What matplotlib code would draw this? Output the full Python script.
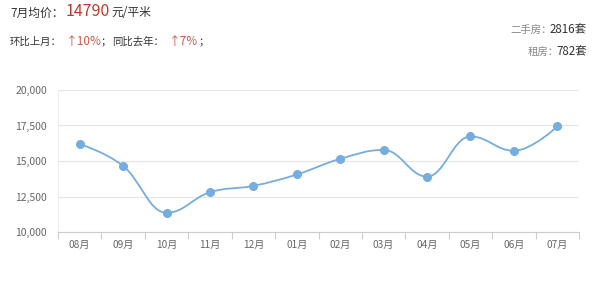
import numpy as np
import matplotlib.pyplot as plt
from matplotlib.path import Path
from matplotlib.patches import PathPatch

plt.rcParams['font.family'] = ['Noto Sans CJK SC', 'DejaVu Sans']

# 数据
months = ['08月', '09月', '10月', '11月', '12月', '01月', '02月', '03月', '04月', '05月', '06月', '07月']
prices = [16200, 14650, 11350, 12800, 13250, 14050, 15150, 15780, 13900, 16730, 15720, 17430]
yticks = [10000, 12500, 15000, 17500, 20000]

line_color = '#76addf'
dark = '#333333'
red = '#c0392b'
up_red = '#d0584a'


def spline_path(xs, ys, smoothing=1.5):
    # 平滑曲线 (类似 Highcharts spline)
    verts = [(xs[0], ys[0])]
    codes = [Path.MOVETO]
    n = len(xs)
    conts = []
    for i in range(n):
        if i == 0 or i == n - 1:
            conts.append((xs[i], ys[i], xs[i], ys[i]))
            continue
        d = smoothing + 1
        lx = (smoothing * xs[i] + xs[i - 1]) / d
        ly = (smoothing * ys[i] + ys[i - 1]) / d
        rx = (smoothing * xs[i] + xs[i + 1]) / d
        ry = (smoothing * ys[i] + ys[i + 1]) / d
        corr = (ry - ly) * (rx - xs[i]) / (rx - lx) + ys[i] - ry
        ly += corr
        ry += corr
        if ly > ys[i - 1] and ly > ys[i]:
            ly = max(ys[i - 1], ys[i]); ry = 2 * ys[i] - ly
        elif ly < ys[i - 1] and ly < ys[i]:
            ly = min(ys[i - 1], ys[i]); ry = 2 * ys[i] - ly
        if ry > ys[i + 1] and ry > ys[i]:
            ry = max(ys[i + 1], ys[i]); ly = 2 * ys[i] - ry
        elif ry < ys[i + 1] and ry < ys[i]:
            ry = min(ys[i + 1], ys[i]); ly = 2 * ys[i] - ry
        conts.append((lx, ly, rx, ry))
    for i in range(1, n):
        verts += [(conts[i - 1][2], conts[i - 1][3]), (conts[i][0], conts[i][1]), (xs[i], ys[i])]
        codes += [Path.CURVE4] * 3
    return Path(verts, codes)


fig = plt.figure(figsize=(6, 2.82), dpi=100)
ax = fig.add_axes([58 / 600, 1 - 232 / 282, 521 / 600, 142 / 282])

x = np.arange(len(months))
ax.add_patch(PathPatch(spline_path(x, prices), facecolor='none', edgecolor=line_color, lw=1.3, zorder=3))
ax.plot(x, prices, 'o', color=line_color, markersize=5.5, zorder=4)

ax.set_xlim(-0.5, len(months) - 0.5)
ax.set_ylim(10000, 20000)
ax.set_yticks(yticks)
ax.set_yticklabels([f'{v:,}' for v in yticks])
ax.set_xticks(np.arange(len(months) + 1) - 0.5)
ax.set_xticklabels([])
ax.set_xticks(x, minor=True)
ax.set_xticklabels(months, minor=True)
ax.tick_params(axis='x', which='major', length=5, color='#cccccc', direction='out')
ax.tick_params(axis='x', which='minor', length=0, pad=6, labelsize=7.3, labelcolor='#666666')
ax.tick_params(axis='y', length=0, pad=8, labelsize=7.5, labelcolor='#666666')
ax.grid(axis='y', color='#e6e6e6', lw=0.8)
for s in ['top', 'right']:
    ax.spines[s].set_visible(False)
ax.spines['left'].set_color('#eeeeee')
ax.spines['bottom'].set_color('#cccccc')


# 顶部文字 (像素位置)
def px_text(xp, yp, txt, col, size, ha='left'):
    return fig.text(xp / 600, 1 - yp / 282, txt, color=col, fontsize=size, va='center', ha=ha)


px_text(10, 13, '7月均价：', dark, 8.5)
px_text(66, 12, '14790', red, 11.5)
px_text(111, 13, '元/平米', dark, 8.5)

px_text(10, 42, '环比上月：', dark, 7.5)
px_text(66, 42, '↑10%', up_red, 8.5)
px_text(101, 42, '；', dark, 7.5)
px_text(112, 42, '同比去年：', dark, 7.5)
px_text(169, 42, '↑7%', up_red, 8.5)
px_text(198, 42, '；', dark, 7.5)

px_text(587, 30, '2816套', dark, 8.3, ha='right')
px_text(552, 30, '二手房：', '#888888', 7.5, ha='right')
px_text(587, 52, '782套', dark, 8.3, ha='right')
px_text(559, 52, '租房：', '#888888', 7.5, ha='right')

fig.savefig('out.png', dpi=100, facecolor='white')
